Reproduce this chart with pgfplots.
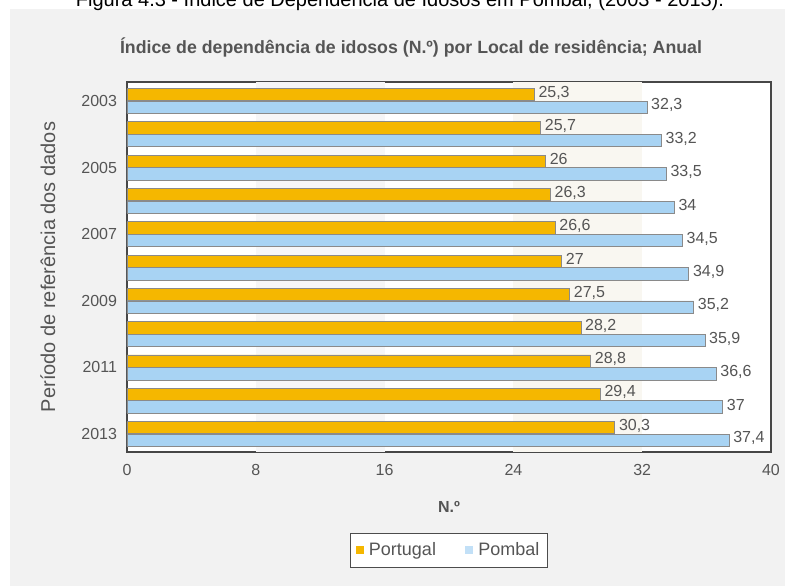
\documentclass[border=0pt]{standalone}
\usepackage{pgfplots}
\pgfplotsset{compat=1.18}
\usepackage{fontspec}
\setmainfont{Liberation Sans}
\definecolor{pt}{HTML}{F5B700}
\definecolor{pb}{HTML}{A8D3F3}
\definecolor{edge}{HTML}{8A8A8A}
\definecolor{txt}{HTML}{555555}
\definecolor{panel}{HTML}{F2F2F2}
\definecolor{bandA}{HTML}{F6F6F7}
\definecolor{bandB}{HTML}{F9F7F1}

\begin{document}
\begin{tikzpicture}[x=0.75pt,y=-0.75pt]
% page background and grey panel (pixel units, y down)
\fill[white] (0,0) rectangle (785,586);
\fill[panel] (10,9) rectangle (785,586);
\node[anchor=base, font=\fontsize{15}{18}\selectfont] at (400,6)
  {Figura 4.3 - Índice de Dependência de Idosos em Pombal, (2003 - 2013).};
\node[font=\fontsize{13.3}{15}\selectfont\bfseries, text=txt] at (411,47)
  {Índice de dependência de idosos (N.º) por Local de residência; Anual};

\begin{axis}[
  at={(95.25pt,-339pt)}, anchor=south west,
  scale only axis,
  width=483pt, height=277.5pt,
  xbar, y dir=reverse,
  xmin=0, xmax=40,
  ymin=2002.43, ymax=2013.54,
  xtick={0,8,16,24,32,40},
  ytick={2003,2005,2007,2009,2011,2013},
  yticklabels={2003,2005,2007,2009,2011,2013},
  major tick length=0pt,
  /pgf/number format/assume math mode=true,
  /pgf/number format/use comma,
  tick label style={font=\fontsize{12}{14}\selectfont, text=txt},
  xticklabel style={yshift=-6pt},
  yticklabel style={xshift=-4pt},
  bar width=0.37,
  nodes near coords,
  nodes near coords style={font=\fontsize{12}{14}\selectfont, text=txt,
    anchor=west, yshift=1.5pt, xshift=-0.5pt},
  axis line style={draw=black!72, line width=1.5pt},
  axis background/.style={fill=white},
  xlabel={N.º},
  xlabel style={font=\fontsize{12}{14}\selectfont\bfseries, text=txt,
    at={(axis description cs:0.5,-0.149)}, anchor=center},
  ylabel={Período de referência dos dados},
  ylabel style={font=\fontsize{15}{17}\selectfont, text=txt,
    at={(axis description cs:-0.123,0.5)}, anchor=center},
  legend style={at={(axis description cs:0.5,-0.265)}, anchor=center,
    legend columns=2, draw=black!70, fill=white,
    inner xsep=4pt, inner ysep=5pt,
    font=\fontsize{13.5}{16}\selectfont, text=txt,
    /tikz/every odd column/.append style={column sep=2pt},
    /tikz/every even column/.append style={column sep=20pt}},
]

\fill[bandA] (axis cs:8,2002.43) rectangle (axis cs:16,2013.54);
\fill[bandB] (axis cs:24,2002.43) rectangle (axis cs:32,2013.54);

\addplot[fill=pt, draw=edge, line width=0.6pt, bar shift=-0.19,
  legend image code/.code={\fill[pt] (0pt,-2.6pt) rectangle (5.2pt,2.6pt);}]
  coordinates {
  (25.3,2003)(25.7,2004)(26,2005)(26.3,2006)(26.6,2007)(27,2008)
  (27.5,2009)(28.2,2010)(28.8,2011)(29.4,2012)(30.3,2013)
};
\addlegendentry{Portugal}

\addplot[fill=pb, draw=edge, line width=0.6pt, bar shift=0.19,
  legend image code/.code={\fill[pb!70!white] (0pt,-2.6pt) rectangle (5.2pt,2.6pt);}]
  coordinates {
  (32.3,2003)(33.2,2004)(33.5,2005)(34,2006)(34.5,2007)(34.9,2008)
  (35.2,2009)(35.9,2010)(36.6,2011)(37,2012)(37.4,2013)
};
\addlegendentry{Pombal}

\end{axis}
\pgfresetboundingbox
\path[use as bounding box] (0,0) rectangle (785,586);
\end{tikzpicture}
\end{document}
